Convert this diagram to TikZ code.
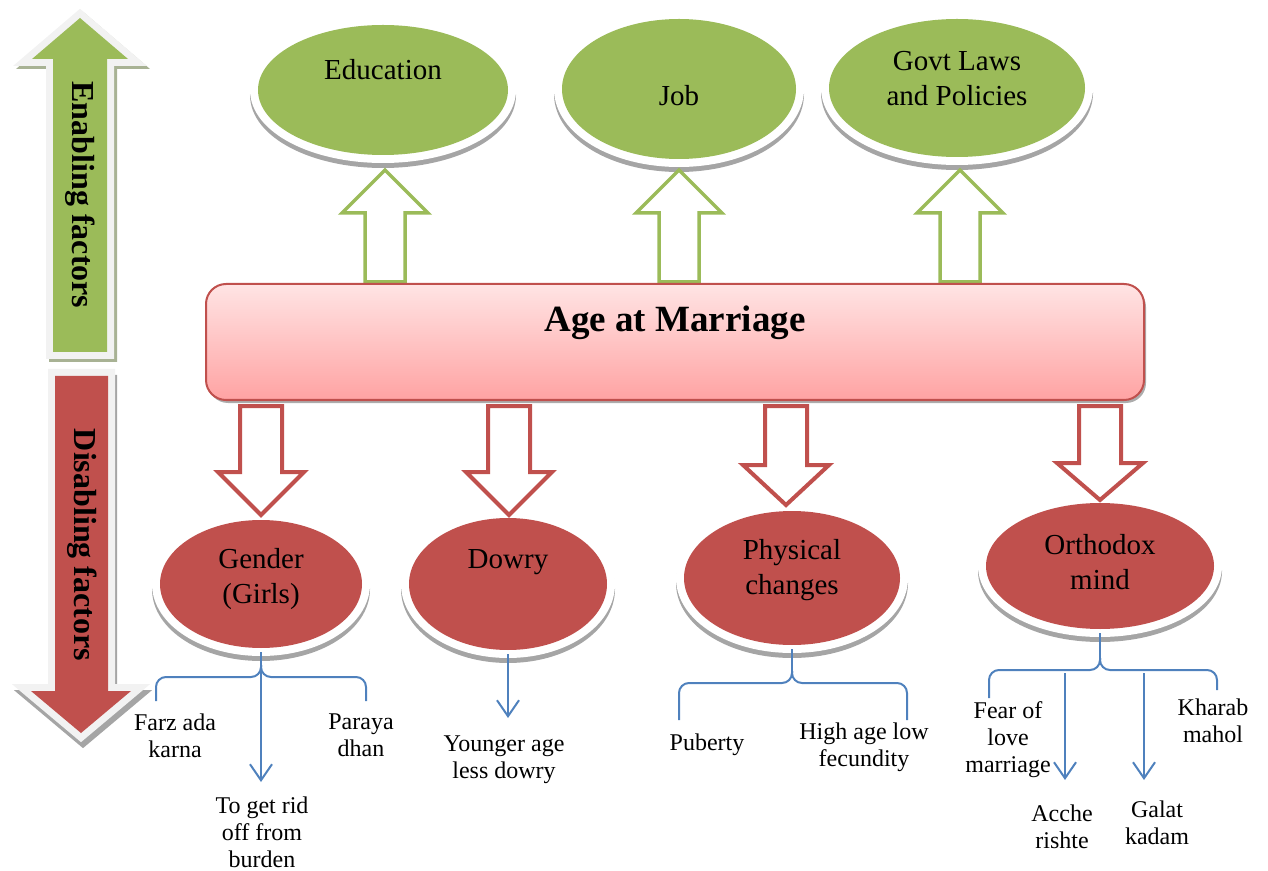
\documentclass[tikz,border=0pt]{standalone}
\usepackage{fontspec}
\setmainfont{Liberation Serif}
\usetikzlibrary{shapes.geometric,arrows.meta}
\definecolor{leaf}{HTML}{9BBB59}
\definecolor{brick}{HTML}{C0504D}
\definecolor{steel}{HTML}{4F81BD}
\definecolor{pinktop}{RGB}{255,228,228}
\definecolor{pinkbot}{RGB}{255,163,163}
\definecolor{rimshade}{RGB}{165,165,165}
\definecolor{greenshade}{RGB}{168,178,148}
\definecolor{paleedge}{RGB}{242,242,242}

\begin{document}
\begin{tikzpicture}[x=0.5pt,y=-0.5pt,
  factor/.style={ellipse, inner sep=0pt, outer sep=2pt,
    preaction={draw=rimshade, fill=rimshade, line width=8pt, transform canvas={yshift=-2.5pt}},
    preaction={draw=white, line width=8pt}},
  enabler/.style={factor, fill=leaf},
  disabler/.style={factor, fill=brick},
  etxt/.style={font=\fontsize{14.5}{17.5}\selectfont, align=center, inner sep=0pt},
  lbl/.style={font=\fontsize{12}{13.5}\selectfont, align=center, inner sep=0pt},
  greenhollow/.style={draw=leaf, line width=1.75pt, fill=white, line join=miter},
  redhollow/.style={draw=brick, line width=2pt, fill=white, line join=miter},
  agebox/.style={rectangle, rounded corners=10pt, draw=brick, line width=1pt,
    top color=pinktop, bottom color=pinkbot, minimum width=469pt, minimum height=58pt,
    preaction={fill=gray!65, transform canvas={xshift=1pt,yshift=-1.5pt}}},
  branch/.style={draw=steel, line width=1pt, rounded corners=5pt},
  pointer/.style={draw=steel, line width=1pt, -{Straight Barb[length=8pt,width=11pt,line width=1pt]}},
  sidetxt/.style={rotate=-90, font=\bfseries\fontsize{16}{19}\selectfont, inner sep=0pt}
]
\useasboundingbox (0,0) rectangle (1268,871);

% side arrows: enabling (up) and disabling (down)
\fill[leaf,
  preaction={draw=greenshade, line width=7pt, transform canvas={xshift=1.5pt,yshift=-1.5pt}},
  preaction={draw=paleedge, line width=7pt}]
  (80,18) -- (128,59) -- (107,59) -- (107,352) -- (53,352) -- (53,59) -- (32,59) -- cycle;
\fill[brick,
  preaction={draw=rimshade, line width=7pt, transform canvas={xshift=1pt,yshift=-3pt}},
  preaction={draw=paleedge, line width=7pt}]
  (81,733) -- (131,691) -- (108,691) -- (108,376) -- (55,376) -- (55,691) -- (31,691) -- cycle;
\node[sidetxt] (enabling) at (80,195) {Enabling factors};
\node[sidetxt] (disabling) at (82,545) {Disabling factors};

% enabling factors
\node[enabler, minimum width=125pt, minimum height=65pt] (edu) at (383,90) {};
\node[enabler, minimum width=117pt, minimum height=70pt] (job) at (679,89) {};
\node[enabler, minimum width=128pt, minimum height=69pt] (govt) at (957,88) {};
\node[etxt] (edu-t) at (383,70) {Education};
\node[etxt] (job-t) at (679,96) {Job};
\node[etxt] (govt-t) at (957,78.5) {Govt Laws\\and Policies};

% disabling factors
\node[disabler, minimum width=101pt, minimum height=64pt] (gender) at (261,584) {};
\node[disabler, minimum width=99pt, minimum height=66pt] (dowry) at (508,584) {};
\node[disabler, minimum width=108pt, minimum height=67pt] (phys) at (792,578) {};
\node[disabler, minimum width=114pt, minimum height=63pt] (orth) at (1100,566) {};
\node[etxt] (gender-t) at (261,579.5) {Gender\\(Girls)};
\node[etxt] (dowry-t) at (508,562) {Dowry};
\node[etxt] (phys-t) at (792,570) {Physical\\changes};
\node[etxt] (orth-t) at (1100,562.5) {Orthodox\\mind};

% hollow block arrows
\foreach \cx in {385,679,960}
  \draw[greenhollow] (\cx,170) -- (\cx+43,213) -- (\cx+20,213) -- (\cx+20,282)
    -- (\cx-20,282) -- (\cx-20,213) -- (\cx-43,213) -- cycle;
\foreach \cx/\ny/\ty in {261/472/515, 509/472/515, 786/465/505, 1100/463/500}
  \draw[redhollow] (\cx-21,406) -- (\cx+21,406) -- (\cx+21,\ny) -- (\cx+43,\ny)
    -- (\cx,\ty) -- (\cx-43,\ny) -- (\cx-21,\ny) -- cycle;

% central box
\node[agebox] (age) at (675,342) {};
\node[font=\bfseries\fontsize{18.5}{22}\selectfont, inner sep=0pt] (age-t) at (675,323) {Age at Marriage};

% Gender branches
\coordinate (g-cusp) at (261,665);
\coordinate (g-end) at (261,782);
\draw[branch] (156,701) -- (156,677) -- (261,677) -- (g-cusp);
\draw[branch] (366,701) -- (366,677) -- (261,677) -- (g-cusp);
\draw[pointer] (gender.south) -- (g-end);
\node[lbl] (farz) at (175,735.5) {Farz ada\\karna};
\node[lbl] (paraya) at (361,735.5) {Paraya\\dhan};
\node[lbl] (ridoff) at (262,832) {To get rid\\off from\\burden};

% Dowry branch
\coordinate (d-end) at (508,718);
\draw[pointer] (dowry.south) -- (d-end);
\node[lbl] (younger) at (504,759.5) {Younger age\\less dowry};

% Physical changes branches
\coordinate (p-cusp) at (792,671);
\draw[branch] (679,720) -- (679,683) -- (792,683) -- (p-cusp);
\draw[branch] (907,720) -- (907,683) -- (792,683) -- (p-cusp);
\draw[steel, line width=1pt] (phys.south) -- (p-cusp);
\node[lbl] (puberty) at (707,745) {Puberty};
\node[lbl] (highage) at (864,747.5) {High age low\\fecundity};

% Orthodox mind branches
\coordinate (o-cusp) at (1100,658);
\coordinate (o-a) at (1065,673);
\coordinate (o-a-end) at (1065,780);
\coordinate (o-b) at (1144,673);
\coordinate (o-b-end) at (1144,780);
\draw[branch] (989,698) -- (989,670) -- (1100,670) -- (o-cusp);
\draw[branch] (1217,690) -- (1217,670) -- (1100,670) -- (o-cusp);
\draw[steel, line width=1pt] (orth.south) -- (o-cusp);
\draw[pointer] (o-a) -- (o-a-end);
\draw[pointer] (o-b) -- (o-b-end);
\node[lbl] (fear) at (1008,740) {Fear of\\love\\marriage};
\node[lbl] (kharab) at (1213,720.5) {Kharab\\mahol};
\node[lbl] (acche) at (1062,826.5) {Acche\\rishte};
\node[lbl] (galat) at (1157,822.5) {Galat\\kadam};
\end{tikzpicture}
\end{document}
